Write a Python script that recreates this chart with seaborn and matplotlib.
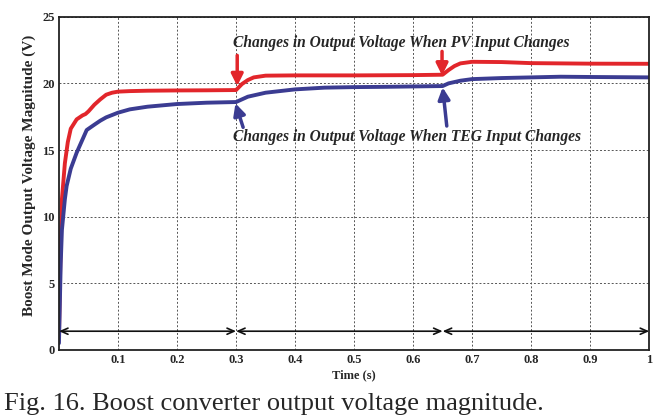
import seaborn as sns
import matplotlib.pyplot as plt
import pandas as pd

# --- data ---
pv_time = [0.0, 0.002, 0.005, 0.01, 0.015, 0.02, 0.03, 0.04, 0.045, 0.05, 0.06, 0.07, 0.08,
           0.09, 0.1, 0.12, 0.15, 0.2, 0.25, 0.3, 0.31, 0.32, 0.33, 0.35, 0.4, 0.5, 0.6, 0.65,
           0.66, 0.67, 0.68, 0.7, 0.75, 0.8, 0.9, 1.0]
pv_volt = [1.0, 6.0, 11.3, 14.0, 15.6, 16.6, 17.3, 17.6, 17.7, 17.9, 18.4, 18.8, 19.15,
           19.3, 19.38, 19.42, 19.45, 19.47, 19.48, 19.5, 19.95, 20.25, 20.45, 20.58, 20.6, 20.6, 20.62, 20.65,
           21.0, 21.3, 21.5, 21.62, 21.6, 21.52, 21.48, 21.47]

teg_time = [0.0, 0.003, 0.005, 0.01, 0.013, 0.02, 0.03, 0.04, 0.047, 0.06, 0.07, 0.08, 0.1,
            0.12, 0.15, 0.2, 0.25, 0.3, 0.32, 0.35, 0.4, 0.45, 0.5, 0.55, 0.6, 0.65,
            0.66, 0.68, 0.7, 0.75, 0.8, 0.85, 0.9, 1.0]
teg_volt = [0.5, 6.5, 9.0, 11.3, 12.3, 13.6, 14.8, 15.8, 16.5, 16.9, 17.2, 17.45, 17.8,
            18.05, 18.25, 18.45, 18.55, 18.6, 19.0, 19.3, 19.55, 19.68, 19.72, 19.74, 19.77, 19.8,
            20.0, 20.2, 20.32, 20.4, 20.45, 20.5, 20.48, 20.45]

x_ticks = [0.1, 0.2, 0.3, 0.4, 0.5, 0.6, 0.7, 0.8, 0.9, 1.0]
x_tick_labels = ['0.1', '0.2', '0.3', '0.4', '0.5', '0.6', '0.7', '0.8', '0.9', '1']
y_ticks = [0, 5, 10, 15, 20, 25]
change_times = [0.0, 0.3, 0.65, 1.0]

pv_df = pd.DataFrame({'t': pv_time, 'v': pv_volt})
teg_df = pd.DataFrame({'t': teg_time, 'v': teg_volt})

sns.set_style("white")
plt.rcParams['font.family'] = ['Liberation Serif', 'DejaVu Serif']

RED = '#e2262b'
BLUE = '#3b3c92'

fig = plt.figure(figsize=(6.7, 4.19), dpi=100)
ax = fig.add_axes([0.088, 0.165, 0.881, 0.795])

sns.lineplot(data=pv_df, x='t', y='v', color=RED, lw=2.8, ax=ax, sort=False)
sns.lineplot(data=teg_df, x='t', y='v', color=BLUE, lw=2.8, ax=ax, sort=False)

ax.set_xlim(0, 1)
ax.set_ylim(0, 25)
ax.set_xticks(x_ticks)
ax.set_xticklabels(x_tick_labels)
ax.set_yticks(y_ticks)
ax.grid(True, linestyle=(0, (2, 2)), color='#555555', lw=0.7)
ax.tick_params(labelsize=9, length=0, pad=3)
for lab in ax.get_xticklabels() + ax.get_yticklabels():
    lab.set_fontweight('bold')
for sp in ax.spines.values():
    sp.set_color('#222222')
    sp.set_linewidth(1.3)

ax.set_xlabel('Time (s)', fontsize=9, fontweight='bold', labelpad=2)
ax.set_ylabel('Boost Mode Output Voltage Magnitude (V)', fontsize=11, fontweight='bold')
ax.yaxis.set_label_coords(-0.039, 0.525)

# double-headed interval arrows
for a, b in zip(change_times[:-1], change_times[1:]):
    ax.annotate('', xy=(a, 1.4), xytext=(b, 1.4),
                arrowprops=dict(arrowstyle='<->,head_length=0.5,head_width=0.22',
                                color='#111111', lw=1.2, shrinkA=0, shrinkB=0))

# annotations
ax.text(0.295, 23.0, 'Changes in Output Voltage When PV Input Changes',
        fontsize=11.2, fontweight='bold', style='italic', va='center', ha='left')
ax.text(0.295, 16.0, 'Changes in Output Voltage When TEG Input Changes',
        fontsize=11.2, fontweight='bold', style='italic', va='center', ha='left')

red_arrows = [((0.302, 19.8), (0.302, 22.1)), ((0.649, 20.6), (0.649, 22.4))]
blue_arrows = [((0.299, 18.5), (0.312, 16.7)), ((0.65, 19.7), (0.657, 16.8))]
for head, tail in red_arrows:
    ax.annotate('', xy=head, xytext=tail,
                arrowprops=dict(arrowstyle='-|>,head_length=0.7,head_width=0.35',
                                color=RED, lw=2.5, shrinkA=0, shrinkB=0))
for head, tail in blue_arrows:
    ax.annotate('', xy=head, xytext=tail,
                arrowprops=dict(arrowstyle='-|>,head_length=0.7,head_width=0.35',
                                color=BLUE, lw=2.5, shrinkA=0, shrinkB=0))

fig.text(0.006, 0.035, 'Fig. 16. Boost converter output voltage magnitude.',
         fontsize=19, ha='left', va='center')

plt.savefig('out.png', dpi=100)
